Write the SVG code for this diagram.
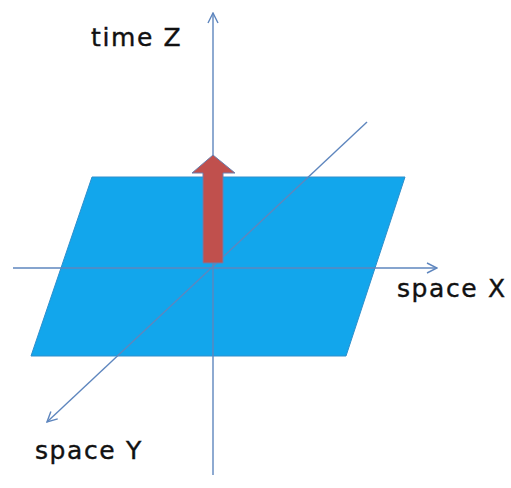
<svg xmlns="http://www.w3.org/2000/svg" width="511" height="488" viewBox="0 0 511 488">
<style>
.ax{stroke:#5E86BE;stroke-width:1.4;fill:none}
.lbl{font-family:"DejaVu Sans","Open Sans",sans-serif;font-size:25px;letter-spacing:1.6px;fill:#111;stroke:#111;stroke-width:0.4}
</style>
<defs>
<marker id="open" viewBox="0 0 12 12" refX="11" refY="6" markerWidth="12" markerHeight="12" markerUnits="userSpaceOnUse" orient="auto">
<polyline points="1,1 11,6 1,11" fill="none" stroke="#5E86BE" stroke-width="1.4"/>
</marker>
</defs>
<rect width="511" height="488" fill="#fff"/>
<g id="plane">
<polygon points="92,177 405,177 346,356 31,356" fill="#12A6EC" stroke="#2E8FCC" stroke-width="1"/>
</g>
<g id="connectors">
<line class="ax" x1="213" y1="475" x2="213" y2="13" marker-end="url(#open)"/>
<line class="ax" x1="13" y1="268" x2="437" y2="268" marker-end="url(#open)"/>
<line class="ax" x1="367" y1="122" x2="47" y2="422" marker-end="url(#open)"/>
</g>
<g id="arrow">
<polygon points="213,155 235,173 223,173 223,263 203,263 203,173 192,173" fill="#C0504D" stroke="#6A7FAE" stroke-width="1"/>
</g>
<g id="labels">
<text class="lbl" x="91" y="46">time Z</text>
<text class="lbl" x="397" y="297">space X</text>
<text class="lbl" x="35" y="459">space Y</text>
</g>
</svg>
